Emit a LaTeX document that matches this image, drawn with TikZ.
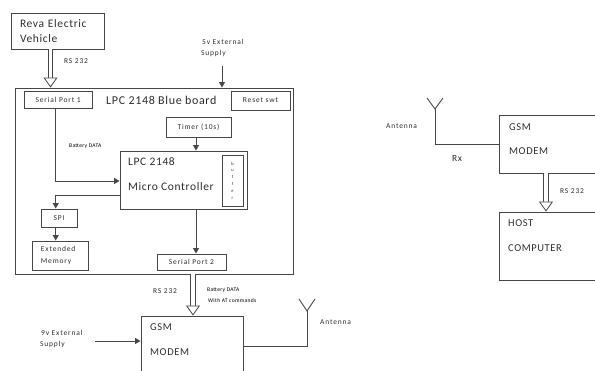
\documentclass[tikz,border=0pt]{standalone}
\usepackage{fontspec}
\setmainfont{Carlito}
\newfontfamily\wideface[LetterSpace=11]{Carlito}
\newfontfamily\midface[LetterSpace=5.5]{Carlito}
\usetikzlibrary{arrows.meta,positioning,calc}
\definecolor{wire}{RGB}{70,70,70}
\definecolor{ink}{RGB}{45,45,45}
\tikzset{
  blk/.style={draw=wire,line width=0.9pt,inner sep=0pt,text=ink,font=\wideface\fontsize{7.5}{9}\selectfont},
  txt/.style={inner sep=0pt,anchor=west,text=ink,font=\midface\fontsize{11.5}{14}\selectfont},
  txtb/.style={inner sep=0pt,anchor=west,text=ink,font=\midface\fontsize{10.5}{12}\selectfont},
  note/.style={inner sep=0pt,anchor=west,text=ink,font=\wideface\fontsize{7.5}{9}\selectfont},
  tiny/.style={inner sep=0pt,anchor=west,text=black,font=\midface\fontsize{5.6}{6}\selectfont},
  wireto/.style={draw=wire,line width=0.9pt,-{Triangle[length=5.5pt,width=6pt]}},
  plainw/.style={draw=wire,line width=0.9pt},
  bus/.style={draw=wire,line width=0.8pt,double=white,double distance=3.9pt,
    -{Triangle[open,fill=white,length=10pt,width=14pt,line width=0.8pt]}}
}
\begin{document}
\begin{tikzpicture}[x=1pt,y=-1pt]
  \useasboundingbox (0,0) rectangle (595,371);
  \clip (0,0) rectangle (595,371);
  % left side
  \node[blk,minimum width=93pt,minimum height=36pt,text width=75pt,align=left,
    font=\midface\fontsize{11.5}{15.5}\selectfont] (reva) at (57.5,31) {Reva Electric\\Vehicle};
  \node[blk,minimum width=278pt,minimum height=186pt] (board) at (154,181) {};
  \node[blk,minimum width=67.5pt,minimum height=17pt] (sp1) at (58.2,99.5) {Serial Port 1};
  \node[blk,minimum width=59pt,minimum height=19pt] (rst) at (260.5,100.5) {Reset swt};
  \node[blk,minimum width=65pt,minimum height=20pt] (timer) at (198.5,127) {Timer (10s)};
  \node[blk,minimum width=127pt,minimum height=58pt] (lpc) at (183.5,180) {};
  \node[blk,minimum width=21pt,minimum height=51pt,text width=21pt,align=center,
    font=\midface\fontsize{4.5}{6.8}\selectfont] (buf) at (232.5,180.5) {b\\u\\f\\f\\e\\r};
  \node[blk,minimum width=36pt,minimum height=18pt] (spi) at (59,218) {SPI};
  \node[blk,minimum width=56pt,minimum height=29pt,text width=38pt,align=left,
    font=\wideface\fontsize{7.5}{12}\selectfont] (mem) at (60,255.5) {Extended\\Memory};
  \node[blk,minimum width=69pt,minimum height=16pt] (sp2) at (191.5,262) {Serial Port 2};
  \node[blk,minimum width=102pt,minimum height=70pt] (gsma) at (192,351) {};
  % right side
  \node[blk,minimum width=110pt,minimum height=58pt] (gsmb) at (554,144) {};
  \node[blk,minimum width=110pt,minimum height=68pt] (host) at (554,246) {};
  % labels
  \node[txt,font=\midface\fontsize{12}{14}\selectfont] (title) at (106,100) {LPC 2148 Blue board};
  \node[txt] (lpca) at (128,162) {LPC 2148};
  \node[txt] (lpcb) at (128,187) {Micro Controller};
  \node[txtb] (gsmat) at (150,327) {GSM};
  \node[txtb] (gsmam) at (150,352) {MODEM};
  \node[txtb] (gsmbt) at (509,127) {GSM};
  \node[txtb] (gsmbm) at (509,151) {MODEM};
  \node[txtb] (hostt) at (508,223) {HOST};
  \node[txtb] (hostc) at (508,248) {COMPUTER};
  \node[note] (rsa) at (64,61) {RS 232};
  \node[note] (rsb) at (153,291) {RS 232};
  \node[note] (rsc) at (560,191) {RS 232};
  \node[note] (fivea) at (202,42) {5v External};
  \node[note] (fiveb) at (201,54) {Supply};
  \node[note] (ninea) at (41,333) {9v External};
  \node[note] (nineb) at (40,345) {Supply};
  \node[note] (anta) at (320,322) {Antenna};
  \node[note] (antb) at (386,126) {Antenna};
  \node[note,font=\midface\fontsize{9.5}{11}\selectfont] (rx) at (452,158) {Rx};
  \node[tiny] (bata) at (69,146) {Battery DATA};
  \node[tiny] (batb) at (207,290) {Battery DATA};
  \node[tiny] (batc) at (208,301) {With AT commands};
  % connector ends
  \coordinate (fivein) at (222,66);
  \coordinate (ninein) at (95,341);
  \coordinate (rootA) at (307,311);
  \coordinate (tipAl) at (299,299);
  \coordinate (tipAr) at (315,299);
  \coordinate (rootB) at (435,109);
  \coordinate (tipBl) at (427,98);
  \coordinate (tipBr) at (443,98);
  % wires
  \draw[wireto] (fivein) -- (fivein |- board.north);
  \draw[wireto] (ninein) -- (ninein -| gsma.west);
  \draw[wireto] (sp1.south -| 55,0) |- (lpc.west |- 0,181);
  \draw[wireto] (lpc.west |- 0,195.5) -| (spi.north -| 55.7,0);
  \draw[wireto] (spi.south -| 55.7,0) -- (mem.north -| 55.7,0);
  \draw[wireto] (timer.south -| 196,0) -- (lpc.north -| 196,0);
  \draw[wireto] (lpc.south -| 196,0) -- (sp2.north -| 196,0);
  % antennas
  \draw[plainw] (gsma.east |- 0,346) -| (rootA);
  \draw[plainw] (tipAl) -- (rootA) -- (tipAr);
  \draw[plainw] (gsmb.west |- 0,144) -| (rootB);
  \draw[plainw] (tipBl) -- (rootB) -- (tipBr);
  % buses
  \draw[bus] (reva.south -| 50.5,0) -- (board.north -| 50.5,0);
  \draw[bus] (board.south -| 193,0) -- (gsma.north -| 193,0);
  \draw[bus] (gsmb.south -| 546,0) -- (host.north -| 546,0);
\end{tikzpicture}
\end{document}
